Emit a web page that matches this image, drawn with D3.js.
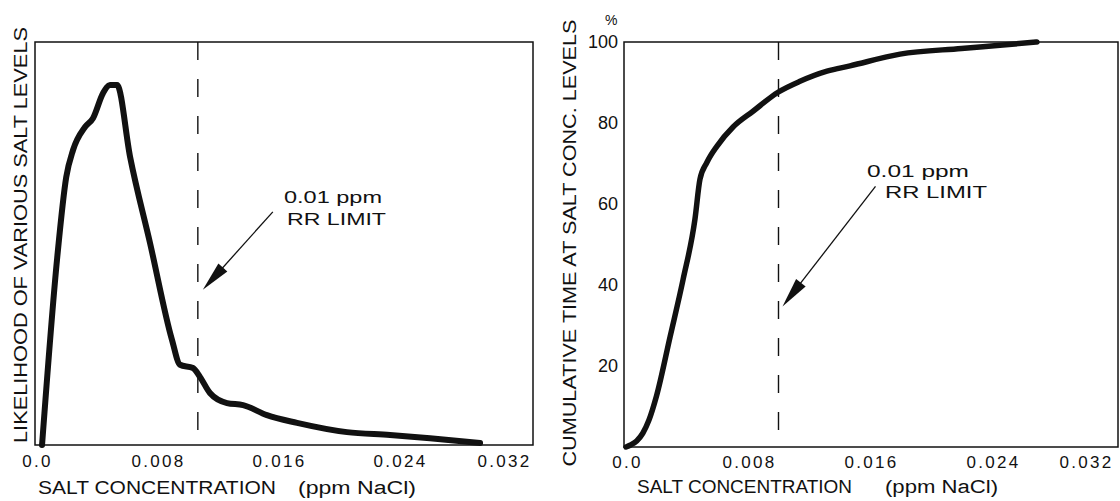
<!DOCTYPE html>
<html><head><meta charset="utf-8">
<script src="https://cdn.jsdelivr.net/npm/d3@7"></script>
<style>
body{margin:0;background:#fff}
svg{display:block}
text{font-family:"Liberation Sans",Arial,Helvetica,sans-serif;fill:#111}
</style>
</head><body><svg id="c" width="1120" height="501"></svg>
<script>
// ---- data ----
const xTickValues = [0, 0.008, 0.016, 0.024, 0.032];
const xTickLabels = ["0.0", "0.008", "0.016", "0.024", "0.032"];
const yTickValuesRight = [20, 40, 60, 80, 100];
const yTickLabelsRight = ["20", "40", "60", "80", "100"];

// Left: likelihood of salt levels (relative units, 0-100)
const likelihoodX = [0.0004, 0.0014, 0.0020, 0.00245, 0.00324, 0.00377, 0.00443, 0.00489, 0.00536, 0.00622, 0.00754, 0.00899, 0.00952, 0.01038, 0.01084, 0.01150, 0.01263, 0.01369, 0.01527, 0.01726, 0.02056, 0.02341, 0.02605, 0.02936];
const likelihoodY = [0, 46.4, 66.5, 73.2, 78.9, 81.1, 87.3, 89.3, 89.3, 71.5, 50.1, 26.1, 19.9, 19.1, 16.9, 12.9, 10.4, 9.9, 7.4, 5.5, 3.2, 2.5, 1.7, 0.5];

// Right: cumulative time at salt conc. levels (%)
const cumulativeX = [0, 0.0003, 0.0007, 0.0011, 0.0015, 0.0020, 0.00289, 0.00374, 0.00452, 0.00485, 0.00531, 0.00597, 0.00702, 0.00833, 0.00997, 0.01141, 0.01318, 0.01469, 0.01797, 0.0220, 0.02452, 0.02695];
const cumulativeY = [0, 0.5, 1.5, 3.4, 6.6, 12.6, 27.2, 41.3, 56.2, 66.1, 70.3, 74.3, 79.0, 82.9, 87.6, 90.3, 92.8, 94.1, 97.0, 98.4, 99.2, 100];

const rrLimitLeft = 0.0107;   // as drawn on the left panel
const rrLimitRight = 0.0100;
const arrowTipLeft = 38.5;    // likelihood units
const arrowTipRight = 34.7;   // %

// ---- layout ----
const svg = d3.select("#c");
const black = "#111";

const L = {fx0: 35, fx1: 533, fy0: 42, fy1: 445};
const R = {fx0: 624, fx1: 1118, fy0: 42, fy1: 447};

const xL = d3.scaleLinear().domain([0, 0.032]).range([36, 520]);
const yL = d3.scaleLinear().domain([0, 100]).range([445, 42]);
const xR = d3.scaleLinear().domain([0, 0.032]).range([626, 1114]);
const yR = d3.scaleLinear().domain([0, 100]).range([447, 42]);

function frame(F) {
  svg.append("rect").attr("x", F.fx0).attr("y", F.fy0)
    .attr("width", F.fx1 - F.fx0).attr("height", F.fy1 - F.fy0)
    .attr("fill", "none").attr("stroke", black).attr("stroke-width", 1.5);
}

function xAxis(x, yPos, pad, lastDx) {
  const g = svg.append("g").attr("transform", `translate(0,${yPos})`)
    .call(d3.axisBottom(x).tickValues(xTickValues)
      .tickFormat((d, i) => xTickLabels[i]).tickSize(0).tickPadding(pad));
  g.select(".domain").remove();
  g.selectAll("text").attr("font-size", 17).attr("fill", black)
    .style("font-family", '"Liberation Sans",Arial,sans-serif')
    .attr("letter-spacing", "2.3px")
    .attr("dx", (d, i) => i === xTickValues.length - 1 ? lastDx : 1);
}

function dashed(x, lim, yTop, yBot) {
  svg.append("line").attr("x1", x(lim)).attr("x2", x(lim))
    .attr("y1", yTop).attr("y2", yBot)
    .attr("stroke", black).attr("stroke-width", 1.4)
    .attr("stroke-dasharray", "18,19");
}

function curve(x, y, xs, ys, w) {
  const pts = xs.map((d, i) => [d, ys[i]]);
  svg.append("path").datum(pts)
    .attr("d", d3.line().x(d => x(d[0])).y(d => y(d[1])).curve(d3.curveMonotoneX))
    .attr("fill", "none").attr("stroke", black).attr("stroke-width", w)
    .attr("stroke-linejoin", "round").attr("stroke-linecap", "round");
}

function arrow(tx, ty, vx, vy) {
  const len = Math.hypot(vx, vy), ux = vx / len, uy = vy / len;
  const nx = -uy, ny = ux, hl = 30, hw = 6;
  svg.append("line").attr("x1", tx + ux * 20).attr("y1", ty + uy * 20)
    .attr("x2", tx + vx).attr("y2", ty + vy)
    .attr("stroke", black).attr("stroke-width", 1.3);
  const bx = tx + ux * hl, by = ty + uy * hl;
  svg.append("path")
    .attr("d", `M${tx},${ty}L${bx + nx * hw},${by + ny * hw}L${bx - nx * hw},${by - ny * hw}Z`)
    .attr("fill", black);
}

function txt(x, y, s, size, len, rot) {
  const t = svg.append("text").attr("x", x).attr("y", y).attr("font-size", size).text(s);
  if (len) t.attr("textLength", len).attr("lengthAdjust", "spacingAndGlyphs");
  if (rot) t.attr("transform", `rotate(-90,${x},${y})`).attr("text-anchor", "middle");
  return t;
}

// ---- left panel ----
frame(L);
dashed(xL, rrLimitLeft, L.fy0, 432);
curve(xL, yL, likelihoodX, likelihoodY, 6);
xAxis(xL, L.fy1, 10, -16);
arrow(xL(rrLimitLeft) + 5, yL(arrowTipLeft), 70, -78);
txt(284, 203, "0.01  ppm", 17, 98);
txt(287, 225, "RR  LIMIT", 17, 99);
txt(38, 494, "SALT CONCENTRATION", 18, 238);
txt(298, 494, "(ppm NaCl)", 18, 118);
txt(27, 235, "LIKELIHOOD OF VARIOUS SALT LEVELS", 18, 416, true);

// ---- right panel ----
frame(R);
dashed(xR, rrLimitRight, R.fy0, 430);
curve(xR, yR, cumulativeX, cumulativeY, 5.5);
xAxis(xR, R.fy1, 9, -28);
const gy = svg.append("g").attr("transform", `translate(${R.fx0},0)`)
  .call(d3.axisLeft(yR).tickValues(yTickValuesRight)
    .tickFormat((d, i) => yTickLabelsRight[i]).tickSize(0).tickPadding(6));
gy.select(".domain").remove();
gy.selectAll("text").attr("font-size", 18).attr("fill", black)
  .style("font-family", '"Liberation Sans",Arial,sans-serif');
arrow(xR(rrLimitRight) + 4, yR(arrowTipRight), 93, -120);
txt(867, 177, "0.01  ppm", 17, 102);
txt(885, 198, "RR  LIMIT", 17, 102);
txt(637, 493, "SALT CONCENTRATION", 18, 215);
txt(885, 493, "(ppm NaCl)", 18, 113);
txt(576, 243, "CUMULATIVE TIME AT SALT CONC. LEVELS", 18, 447, true);
txt(605, 25, "%", 14);
</script></body></html>
